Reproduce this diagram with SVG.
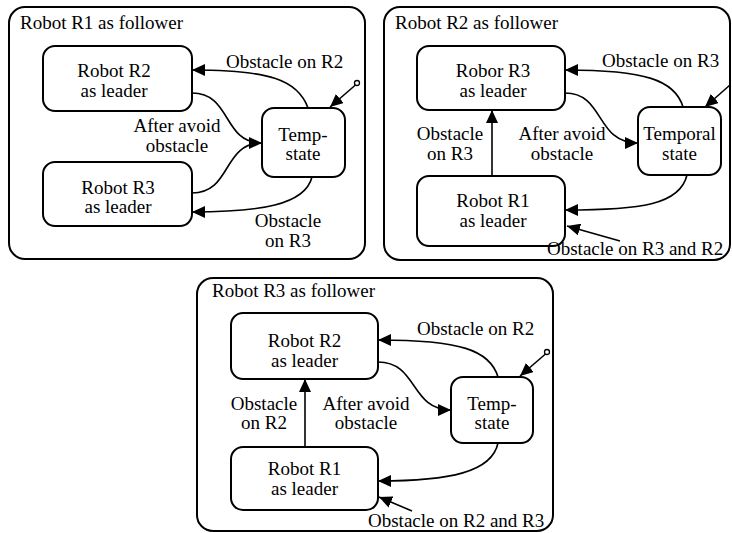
<svg xmlns="http://www.w3.org/2000/svg" width="732" height="533" viewBox="0 0 732 533">
<style>
.panel{fill:#fff;stroke:#000;stroke-width:2}
.node{fill:#fff;stroke:#000;stroke-width:2}
text{font-family:"Liberation Serif","Times New Roman",serif;font-size:19px;fill:#000}
.c{text-anchor:middle}
.edge{fill:none;stroke:#000;stroke-width:1.6}
</style>
<defs>
<marker id="ah" markerUnits="userSpaceOnUse" markerWidth="14" markerHeight="12" viewBox="0 0 14 12" refX="13" refY="6" orient="auto">
<path d="M0,0 L13,6 L0,12 Z" fill="#000"/>
</marker>
</defs>
<rect width="732" height="533" fill="#fff"/>

<g id="panel1">
<rect class="panel" x="9" y="7" width="356" height="252" rx="16"/>
<text x="20" y="29">Robot R1 as follower</text>
</g>
<g id="panel2">
<rect class="panel" x="384" y="7" width="346" height="253" rx="16"/>
<text x="395" y="29">Robot R2 as follower</text>
</g>
<g id="panel3">
<rect class="panel" x="197" y="278" width="356" height="253" rx="16"/>
<text x="212" y="297">Robot R3 as follower</text>
</g>

<!-- Panel 1 nodes -->
<g id="p1-r2">
<rect class="node" x="43" y="46" width="149" height="65" rx="12"/>
<text class="c" x="114" y="77">Robot R2</text>
<text class="c" x="114" y="97">as leader</text>
</g>
<g id="p1-r3">
<rect class="node" x="43" y="162" width="149" height="64" rx="12"/>
<text class="c" x="118" y="194">Robot R3</text>
<text class="c" x="118" y="213">as leader</text>
</g>
<g id="p1-temp">
<rect class="node" x="262" y="108" width="83" height="69" rx="12"/>
<text class="c" x="303" y="141">Temp-</text>
<text class="c" x="303" y="160">state</text>
</g>

<!-- Panel 2 nodes -->
<g id="p2-r3">
<rect class="node" x="417" y="46" width="148" height="64" rx="12"/>
<text class="c" x="493" y="77">Robor R3</text>
<text class="c" x="493" y="97">as leader</text>
</g>
<g id="p2-r1">
<rect class="node" x="417" y="176" width="148" height="70" rx="12"/>
<text class="c" x="493" y="207">Robot R1</text>
<text class="c" x="493" y="227">as leader</text>
</g>
<g id="p2-temp">
<rect class="node" x="638" y="107" width="83" height="68" rx="12"/>
<text class="c" x="679.5" y="140">Temporal</text>
<text class="c" x="679.5" y="160">state</text>
</g>

<!-- Panel 3 nodes -->
<g id="p3-r2">
<rect class="node" x="231" y="313" width="147" height="66" rx="12"/>
<text class="c" x="304.5" y="347">Robot R2</text>
<text class="c" x="304.5" y="367">as leader</text>
</g>
<g id="p3-r1">
<rect class="node" x="231" y="447" width="147" height="63" rx="12"/>
<text class="c" x="304.5" y="475">Robot R1</text>
<text class="c" x="304.5" y="495">as leader</text>
</g>
<g id="p3-temp">
<rect class="node" x="451" y="377" width="82" height="66" rx="12"/>
<text class="c" x="492" y="410">Temp-</text>
<text class="c" x="492" y="429">state</text>
</g>

<g id="connectors">
<!-- Panel 1 -->
<path class="edge" d="M308,108 C298,80 270,70 192,70" marker-end="url(#ah)"/>
<path class="edge" d="M192,93 C232,93 222,143 262,143" marker-end="url(#ah)"/>
<path class="edge" d="M192,193 C232,193 222,143 262,143"/>
<path class="edge" d="M312,177 C305,205 260,212 192,212" marker-end="url(#ah)"/>
<circle cx="357" cy="83" r="2.5" fill="#fff" stroke="#000" stroke-width="1.3"/>
<path class="edge" d="M355.5,85 L330,107" marker-end="url(#ah)"/>
<!-- Panel 2 -->
<path class="edge" d="M683,107 C675,80 645,70 565,70" marker-end="url(#ah)"/>
<path class="edge" d="M565,93 C605,93 595,143 638,143" marker-end="url(#ah)"/>
<path class="edge" d="M687,175 C680,205 640,210 565,210" marker-end="url(#ah)"/>
<path class="edge" d="M492,176 L492,110" marker-end="url(#ah)"/>
<path class="edge" d="M730,85 L705,107" marker-end="url(#ah)"/>
<path class="edge" d="M620,241 L567,226" marker-end="url(#ah)"/>
<!-- Panel 3 -->
<path class="edge" d="M498,377 C490,350 460,340 378,340" marker-end="url(#ah)"/>
<path class="edge" d="M378,362 C418,362 410,410 451,410" marker-end="url(#ah)"/>
<path class="edge" d="M498,443 C492,472 450,481 378,481" marker-end="url(#ah)"/>
<path class="edge" d="M305,447 L305,379" marker-end="url(#ah)"/>
<circle cx="547" cy="352" r="2.5" fill="#fff" stroke="#000" stroke-width="1.3"/>
<path class="edge" d="M545.5,354 L520,376" marker-end="url(#ah)"/>
<path class="edge" d="M412,511 L379,497" marker-end="url(#ah)"/>
</g>

<g id="labels">
<text x="226" y="68">Obstacle on R2</text>
<text class="c" x="177" y="132">After avoid</text>
<text class="c" x="177" y="152">obstacle</text>
<text class="c" x="288" y="227">Obstacle</text>
<text class="c" x="288" y="247">on R3</text>

<text x="602" y="67">Obstacle on R3</text>
<text class="c" x="450" y="140">Obstacle</text>
<text class="c" x="450" y="160">on R3</text>
<text class="c" x="562" y="140">After avoid</text>
<text class="c" x="562" y="160">obstacle</text>
<text x="547" y="255">Obstacle on R3 and R2</text>

<text x="417" y="335">Obstacle on R2</text>
<text class="c" x="264" y="410">Obstacle</text>
<text class="c" x="264" y="429">on R2</text>
<text class="c" x="366" y="410">After avoid</text>
<text class="c" x="366" y="429">obstacle</text>
<text x="368" y="527">Obstacle on R2 and R3</text>
</g>
</svg>
